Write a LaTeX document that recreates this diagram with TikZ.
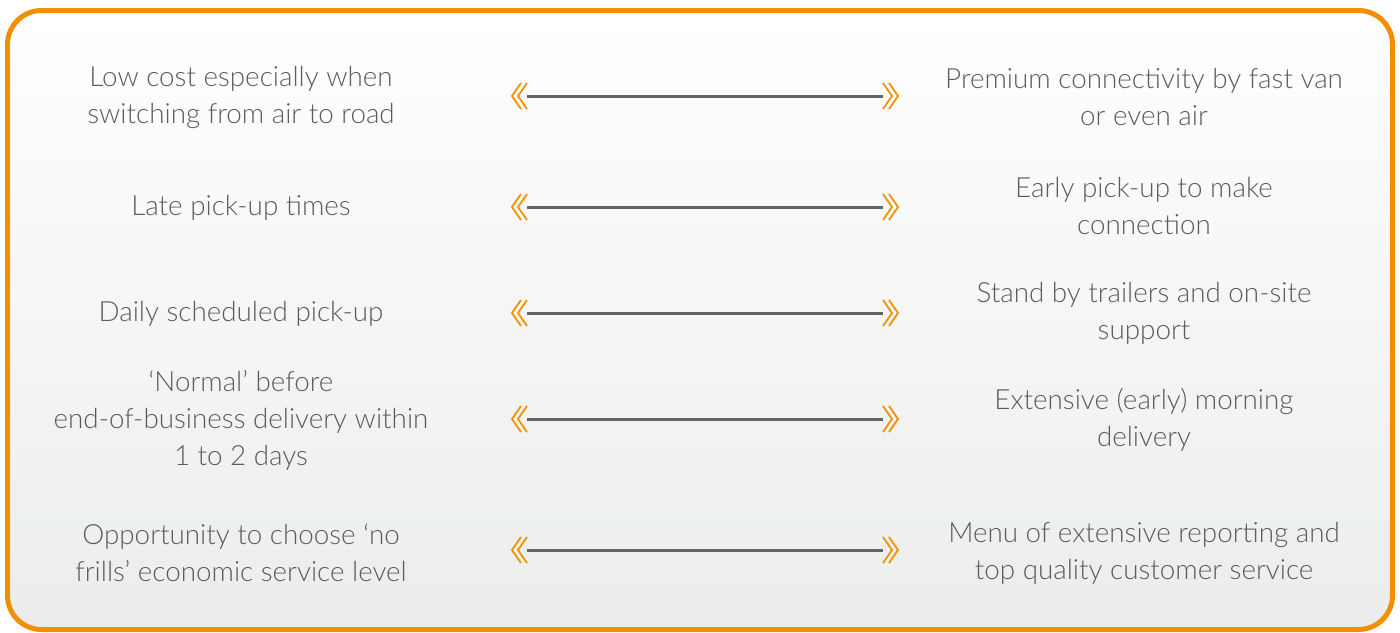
\documentclass[tikz,border=0pt]{standalone}
\usepackage{fontspec}
\setmainfont{Lato}[UprightFont={* Light}]
\definecolor{borderorange}{RGB}{241,143,1}
\definecolor{chevorange}{RGB}{243,146,0}
\definecolor{txtgray}{RGB}{92,92,92}
\definecolor{linegray}{RGB}{100,100,100}
\definecolor{bottomgray}{RGB}{235,236,236}
\tikzset{
  lbl/.style={text=txtgray, align=center, font=\fontsize{27.8}{37}\selectfont, inner sep=0pt},
  conn/.style={draw=linegray, line width=3pt},
  chev/.style={draw=chevorange, line width=1.8pt},
  pics/chevl/.style={code={
    \draw[chev] (9,-13) -- (0,0) -- (9,13);
    \draw[chev] (15,-13) -- (6,0) -- (15,13);
  }},
  pics/chevr/.style={code={
    \draw[chev] (-9,-13) -- (0,0) -- (-9,13);
    \draw[chev] (-15,-13) -- (-6,0) -- (-15,13);
  }}
}
\begin{document}
\begin{tikzpicture}[x=1pt,y=-1pt]
\useasboundingbox (0,0) rectangle (1400,632);
\path[draw=borderorange, line width=5pt, rounded corners=34pt,
  top color=white, bottom color=bottomgray] (7.5,10.5) rectangle (1392.5,629.5);

% left texts
\node[lbl] (l1) at (241,97) {Low cost especially when\\switching from air to road};
\node[lbl] (l2) at (241,208) {Late pick-up times};
\node[lbl] (l3) at (241,314) {Daily scheduled pick-up};
\node[lbl] (l4) at (241,420) {‘Normal’ before\\end-of-business delivery within\\1 to 2 days};
\node[lbl] (l5) at (241,553) {Opportunity to choose ‘no\\frills’ economic service level};

% right texts
\node[lbl] (r1) at (1144,97) {Premium connectivity by fast van\\or even air};
\node[lbl] (r2) at (1144,206) {Early pick-up to make\\connection};
\node[lbl] (r3) at (1144,313) {Stand by trailers and on-site\\support};
\node[lbl] (r4) at (1144,420) {Extensive (early) morning\\delivery};
\node[lbl] (r5) at (1144,553) {Menu of extensive reporting and\\top quality customer service};

% connectors
\foreach \i/\y in {1/96,2/207,3/313,4/419,5/550}{
  \coordinate (a\i) at (527,\y);
  \coordinate (b\i) at (883,\y);
  \draw[conn] (a\i) -- (b\i);
  \pic at ([xshift=-15pt]a\i) {chevl};
  \pic at ([xshift=15pt]b\i) {chevr};
}
\end{tikzpicture}
\end{document}
